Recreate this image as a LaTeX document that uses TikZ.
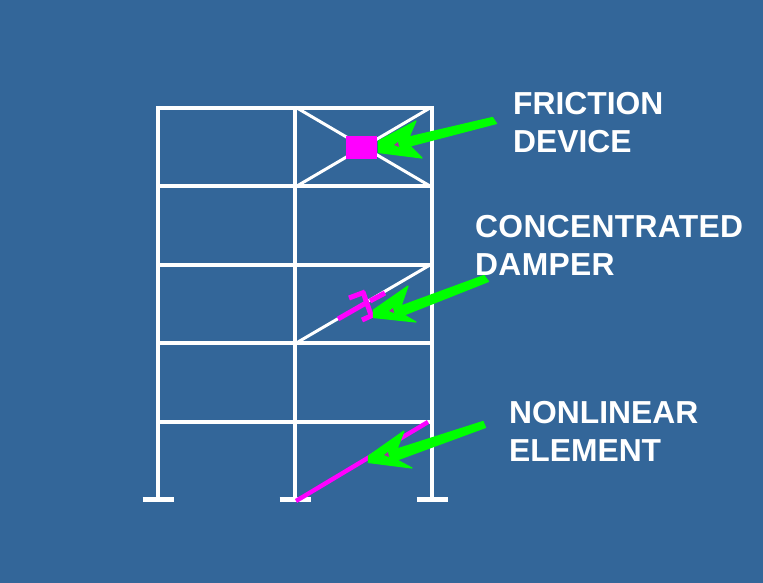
\documentclass[tikz,border=0pt]{standalone}
\usepackage{fontspec}
\setmainfont{Liberation Sans}
\definecolor{bgblue}{HTML}{336699}
\definecolor{mag}{HTML}{FF00FF}
\definecolor{grn}{HTML}{00FF00}
\definecolor{dkmag}{HTML}{A030A0}
\tikzset{
 frame/.style={draw=white,line width=4.2pt},
 brace/.style={draw=white,line width=3pt},
 dev/.style={draw=mag,line width=5pt},
 pointer/.style={fill=grn,draw=grn,line width=1.2pt,line join=round},
 speck/.style={fill=dkmag,draw=none},
 lab/.style={text=white,font=\fontsize{31.8}{38}\selectfont\bfseries,align=left,inner sep=0pt,anchor=west}
}
\begin{document}
\begin{tikzpicture}[x=1pt,y=-1pt]
\fill[bgblue] (0,0) rectangle (763,583);
\useasboundingbox (0,0) rectangle (763,583);
% columns
\draw[frame] (158,106) -- (158,499);
\draw[frame] (295,106) -- (295,499);
\draw[frame] (432,106) -- (432,499);
% floors
\foreach \yy in {108,186,265,343,422} \draw[frame] (156,\yy) -- (434,\yy);
% footings
\foreach \xx in {158,295,432} \draw[frame] (\xx-15.5,499.5) -- (\xx+15.5,499.5);
% friction device
\draw[brace] (297,108) -- (430,186);
\draw[brace] (297,186) -- (430,108);
\node[fill=mag,minimum width=31pt,minimum height=23pt,inner sep=0pt] (fd) at (361.5,147.5) {};
% damper
\draw[brace] (298,342) -- (430,265);
\draw[dev] (338,319) -- (366,303);
\draw[dev] (363,292) -- (371,315);
\draw[dev] (349,298) -- (365,292);
\draw[dev] (362,320) -- (373,315);
\draw[dev] (370,301) -- (385,293);
% nonlinear element
\draw[dev,line width=4.4pt] (296,501) -- (428,422);
% arrows
\path[pointer] (378.5,141) -- (416,121) -- (409,137) -- (492.5,117.5) -- (496.5,123.5) -- (410,146) -- (422,158) -- (378.5,152.5) -- cycle;
\path[pointer] (373.5,310) -- (408,286) -- (401,306) -- (484,275.5) -- (488.5,281.5) -- (404,315) -- (416,322) -- (373.5,317.5) -- cycle;
\path[pointer] (368.5,456) -- (404,431) -- (397,449) -- (483,421.5) -- (485.5,427.5) -- (397,460) -- (412,468) -- (368.5,462.5) -- cycle;
% specks
\fill[speck] (394,145) -- (398,142) -- (399,147) -- cycle;
\fill[speck] (389,311) -- (393,308) -- (394,313) -- cycle;
\fill[speck] (384,455) -- (388,452) -- (389,457) -- cycle;
% labels
\node[lab] (t1) at (513,123) {FRICTION\\DEVICE};
\node[lab] (t2) at (475,245) {\addfontfeatures{LetterSpace=1}CONCENTRATED\\\addfontfeatures{LetterSpace=1}DAMPER};
\node[lab] (t3) at (509,431) {NONLINEAR\\ELEMENT};
\end{tikzpicture}
\end{document}
